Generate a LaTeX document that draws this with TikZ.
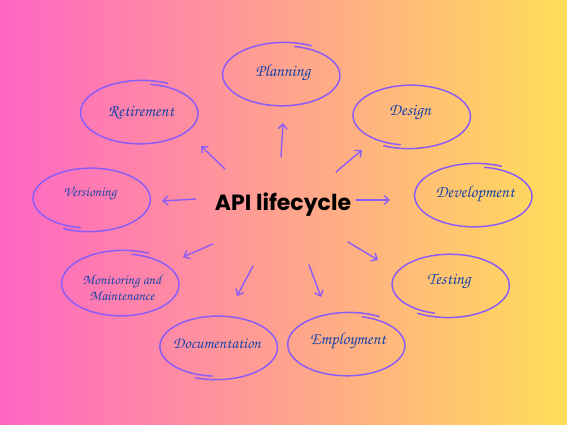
\documentclass[tikz,border=0pt]{standalone}
\usepackage{fontspec}
\usepackage[T1,TU]{fontenc}
\newfontfamily\titlefont{Poppins}
\usetikzlibrary{arrows.meta}
\definecolor{bgpink}{HTML}{FF66C4}
\definecolor{bgyellow}{HTML}{FFDE59}
\definecolor{loopc}{HTML}{8C5CF6}
\definecolor{inkc}{HTML}{1C45A8}
\newcommand\scriptfnt{\fontencoding{T1}\fontfamily{pzc}\fontseries{mb}\fontshape{it}\selectfont}
\newcommand\loopell[6]{% cx cy rx ry start end
  \draw[loopline] plot[domain=#5:#6, samples=100, smooth]
    ({#1+#3*(0.94+0.12*(\x-(#5))/((#6)-(#5)))*cos(\x)},
     {#2+#4*(0.94+0.12*(\x-(#5))/((#6)-(#5)))*sin(\x)});}
\tikzset{
  loopline/.style={draw=loopc, line width=1.5pt, line cap=round},
  lbl/.style={text=inkc, font=\scriptfnt\fontsize{17}{18}\selectfont, align=center},
  arr/.style={draw=loopc, line width=1.4pt, line cap=round,
    -{Straight Barb[length=5pt,width=9pt,line width=1.4pt]}},
  title/.style={font=\titlefont\bfseries\fontsize{22}{24}\selectfont, text=black}
}
\begin{document}
\begin{tikzpicture}[x=1pt,y=-1pt]
\shade[left color=bgpink, right color=bgyellow] (0,0) rectangle (567,425);
\useasboundingbox (0,0) rectangle (567,425);

\node[title] (api) at (283,205) {API lifecycle};

\loopell{283}{75}{59}{31}{-78}{297}
\node[lbl] (plan) at (283,73) {Planning};
\loopell{410}{116}{59}{31}{100}{475}
\node[lbl] (design) at (410,113) {Design};
\loopell{141}{113}{59}{31}{-80}{295}
\node[lbl] (retire) at (141,112) {Retirement};
\loopell{90}{199}{59}{31}{100}{475}
\node[lbl, font=\scriptfnt\fontsize{14}{15}\selectfont] (vers) at (90,194) {Versioning};
\loopell{475}{196}{59}{31}{-80}{295}
\node[lbl] (dev) at (475,194) {Development};
\loopell{122}{284}{59}{32}{-80}{295}
\node[lbl, font=\scriptfnt\fontsize{14}{16}\selectfont] (mon) at (122,288) {Monitoring and\\Maintenance};
\loopell{449}{285}{59}{31}{105}{480}
\node[lbl] (test) at (449,282) {Testing};
\loopell{217}{347}{59}{31}{95}{470}
\node[lbl, font=\scriptfnt\fontsize{16}{17}\selectfont] (doc) at (217,343) {Documentation};
\loopell{348}{345}{59}{31}{-75}{300}
\node[lbl] (emp) at (348,341) {Employment};

\coordinate (a1s) at (281,157); \coordinate (a1e) at (283,123);
\coordinate (a2s) at (225,169); \coordinate (a2e) at (201,146);
\coordinate (a3s) at (336,172); \coordinate (a3e) at (362,150);
\coordinate (a4s) at (196,199); \coordinate (a4e) at (162,201);
\coordinate (a5s) at (356,200); \coordinate (a5e) at (390,200);
\coordinate (a6s) at (213,244); \coordinate (a6e) at (183,257);
\coordinate (a7s) at (253,266); \coordinate (a7e) at (237,296);
\coordinate (a8s) at (309,265); \coordinate (a8e) at (321,297);
\coordinate (a9s) at (348,242); \coordinate (a9e) at (378,260);
\foreach \i in {1,...,9}{\draw[arr] (a\i s) -- (a\i e);}
\end{tikzpicture}
\end{document}
